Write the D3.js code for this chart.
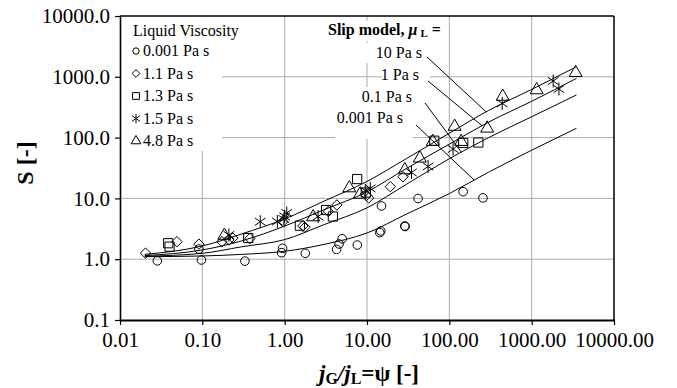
<!DOCTYPE html>
<html>
<head>
<meta charset="utf-8">
<script src="https://cdn.jsdelivr.net/npm/d3@7"></script>
<style>
  body { margin: 0; background: #fff; }
  svg { display: block; }
  svg text { font-family: "Liberation Serif", "Times New Roman", Times, serif; fill: #000; }
</style>
</head>
<body>
<svg id="chart" width="677" height="388"></svg>
<script>
// Axis ticks
const xTickValues = [0.01, 0.1, 1, 10, 100, 1000, 10000];
const xTickLabels = ["0.01", "0.10", "1.00", "10.00", "100.00", "1000.00", "10000.00"];
const yTickValues = [0.1, 1, 10, 100, 1000, 10000];
const yTickLabels = ["0.1", "1.0", "10.0", "100.0", "1000.0", "10000.0"];

// Measured slip ratio S against psi = jG/jL, one array per liquid viscosity
const seriesNames = ["0.001 Pa s", "1.1 Pa s", "1.3 Pa s", "1.5 Pa s", "4.8 Pa s"];
const seriesShapes = ["circle", "diamond", "square", "asterisk", "triangle"];
const visc0001 = [[0.0284, 0.94], [0.091, 1.47], [0.0975, 0.97], [0.329, 0.93], [0.944, 1.51], [0.917, 1.28],
  [1.78, 1.25], [4.27, 1.45], [4.58, 1.78], [4.99, 2.17], [7.63, 1.71], [14.3, 2.73], [14.7, 2.91],
  [15.0, 7.5], [28.8, 3.52], [29.0, 3.45], [41.7, 9.96], [147, 12.9], [256, 10.2]];
const visc11 = [[0.0204, 1.26], [0.0492, 1.94], [0.091, 1.77], [0.173, 1.94], [0.21, 2.07], [0.235, 2.23],
  [0.378, 2.19], [0.95, 4.14], [1.66, 3.52], [1.76, 3.35], [3.39, 6.1], [4.3, 7.8], [9.86, 11.2],
  [10.5, 10.2], [19.2, 15.6], [27.4, 22.7]];
const visc13 = [[0.0385, 1.83], [0.040, 1.61], [0.361, 2.23], [1.53, 3.56], [3.19, 6.44], [3.85, 5.04],
  [7.59, 20.8], [9.67, 12.5], [65.6, 88.9], [147.5, 81.5], [225, 83]];
const visc15 = [[0.21, 2.5], [0.505, 4.14], [0.815, 4.17], [1.0, 5.04], [0.977, 4.58], [1.06, 5.75],
  [2.55, 5.04], [9.53, 13.5], [10.96, 14.6], [34.7, 26.7], [55.2, 33.5], [111, 64.9], [439, 366],
  [1824, 853], [2143, 630]];
const visc48 = [[0.185, 2.45], [2.22, 4.94], [6.1, 14.8], [8.18, 11.6], [28.8, 29.3], [43.8, 45.7],
  [63, 85.7], [116, 152], [139, 85.7], [288, 142], [445, 474], [1151, 607], [3420, 1166]];

// Slip model curves for four liquid viscosities
const modelNames = ["10 Pa s", "1 Pa s", "0.1 Pa s", "0.001 Pa s"];
const modelPsi = [0.02, 0.1, 0.3, 1, 3, 10, 30, 100, 300, 1000, 3500];
const model10 = [1.2, 1.65, 2.6, 4.6, 9, 19, 45, 118, 280, 620, 1466];
const model1 = [1.15, 1.42, 2.0, 3.5, 6.5, 12.8, 31, 78, 180, 395, 944];
const model01 = [1.12, 1.25, 1.6, 2.1, 3.7, 7, 17, 45, 100, 220, 503];
const model0001 = [1.1, 1.13, 1.2, 1.35, 1.75, 2.7, 5.5, 12, 27, 62, 142];
// psi at which each label's pointer meets its curve
const leaderPsi = [280, 250, 140, 200];

const FONT = '"Liberation Serif", "Times New Roman", Times, serif';
const svg = d3.select("#chart");
const L = 120, R = 614, T = 16, B = 320;
const x = d3.scaleLog().domain([0.01, 10000]).range([L, R]);
const y = d3.scaleLog().domain([0.1, 10000]).range([B, T]);

// Marker outlines
function markerPath(shape, k) {
  const p = d3.path();
  if (shape === "circle") {
    const r = 4.3 * k; p.moveTo(r, 0); p.arc(0, 0, r, 0, 2 * Math.PI);
  } else if (shape === "diamond") {
    const r = 5.2 * k; p.moveTo(0, -r); p.lineTo(r, 0); p.lineTo(0, r); p.lineTo(-r, 0); p.closePath();
  } else if (shape === "square") {
    const r = 4.6 * k; p.rect(-r, -r, 2 * r, 2 * r);
  } else if (shape === "triangle") {
    const s = 13 * k, h = s * Math.sqrt(3) / 2;
    p.moveTo(0, -h * 2 / 3); p.lineTo(s / 2, h / 3); p.lineTo(-s / 2, h / 3); p.closePath();
  } else if (shape === "asterisk") {
    const r = 6.5 * k;
    p.moveTo(0, -r); p.lineTo(0, r);
    const a = 55 * Math.PI / 180;
    p.moveTo(-r * Math.sin(a), -r * Math.cos(a)); p.lineTo(r * Math.sin(a), r * Math.cos(a));
    p.moveTo(r * Math.sin(a), -r * Math.cos(a)); p.lineTo(-r * Math.sin(a), r * Math.cos(a));
  }
  return p.toString();
}

// Grid
const grid = svg.append("g").attr("stroke", "#ababab").attr("stroke-width", 1);
xTickValues.slice(1, -1).forEach(v => grid.append("line")
  .attr("x1", x(v)).attr("x2", x(v)).attr("y1", T).attr("y2", B));
yTickValues.slice(1, -1).forEach(v => grid.append("line")
  .attr("x1", L).attr("x2", R).attr("y1", y(v)).attr("y2", y(v)));

// White panels behind the legend and the model labels
const panels = [[121, 17, 101, 134], [326, 21, 116, 20], [335, 43, 90, 20], [382, 65, 48, 21],
  [335, 87, 80, 20], [335, 107, 78, 32]];
svg.append("g").selectAll("rect").data(panels).join("rect")
  .attr("x", d => d[0]).attr("y", d => d[1]).attr("width", d => d[2]).attr("height", d => d[3])
  .attr("fill", "#fff");

// Frame
svg.append("line").attr("x1", L).attr("x2", R).attr("y1", T).attr("y2", T)
  .attr("stroke", "#000").attr("stroke-width", 1.5);
svg.append("line").attr("x1", R).attr("x2", R).attr("y1", T).attr("y2", B)
  .attr("stroke", "#000").attr("stroke-width", 1.5);

// Axes
const xAxis = svg.append("g").attr("transform", `translate(0,${B})`)
  .call(d3.axisBottom(x).tickValues(xTickValues).tickFormat((d, i) => xTickLabels[i])
    .tickSize(5).tickSizeOuter(0).tickPadding(7));
const yAxis = svg.append("g").attr("transform", `translate(${L},0)`)
  .call(d3.axisLeft(y).tickValues(yTickValues).tickFormat((d, i) => yTickLabels[i])
    .tickSize(5).tickSizeOuter(0).tickPadding(5));
[xAxis, yAxis].forEach(g => {
  g.attr("font-family", null).attr("font-size", null);
  g.selectAll("text").attr("font-family", FONT).attr("font-size", 21).attr("fill", "#000");
  g.selectAll("line").attr("stroke", "#000").attr("stroke-width", 1.2);
});
xAxis.select(".domain").attr("stroke", "#000").attr("stroke-width", 2.2);
yAxis.select(".domain").attr("stroke", "#000").attr("stroke-width", 1.6);

// Model curves
const models = [model10, model1, model01, model0001];
const line = d3.line().x(d => x(d[0])).y(d => y(d[1])).curve(d3.curveMonotoneX);
svg.append("g").selectAll("path").data(models).join("path")
  .attr("d", m => line(modelPsi.map((p, i) => [p, m[i]])))
  .attr("fill", "none").attr("stroke", "#000").attr("stroke-width", 1);

// Measured points
const series = [visc0001, visc11, visc13, visc15, visc48];
series.forEach((pts, si) => {
  svg.append("g").selectAll("path").data(pts).join("path")
    .attr("transform", d => `translate(${x(d[0])},${y(d[1])})`)
    .attr("d", markerPath(seriesShapes[si], 1))
    .attr("fill", "none").attr("stroke", "#000").attr("stroke-width", 1);
});

// Legend
const lg = svg.append("g").attr("font-family", FONT);
lg.append("text").attr("x", 133).attr("y", 36).attr("font-size", 16).text("Liquid Viscosity");
seriesNames.forEach((name, i) => {
  const by = 56 + i * 22.5;
  lg.append("path").attr("transform", `translate(136,${by - 5})`)
    .attr("d", markerPath(seriesShapes[i], 0.74))
    .attr("fill", "none").attr("stroke", "#000").attr("stroke-width", 1);
  lg.append("text").attr("x", 143).attr("y", by).attr("font-size", 16).text(name);
});

// Model labels and pointers
const mt = svg.append("text").attr("x", 328).attr("y", 35).attr("font-size", 16)
  .attr("font-weight", "bold").attr("font-family", FONT);
mt.append("tspan").text("Slip model, ");
mt.append("tspan").attr("font-style", "italic").text("μ");
mt.append("tspan").attr("font-size", 11).attr("dx", 3).attr("dy", 2).text("L");
mt.append("tspan").attr("dy", -2).text(" =");

const labelRight = [422, 419, 412, 403];
const labelBase = [58, 80, 102, 123];
const leaderStart = [[427, 57], [428, 81], [425, 103], [416, 125]];
function curveAt(m, p) {
  const lp = Math.log10(p);
  for (let i = 0; i < modelPsi.length - 1; i++) {
    const a = Math.log10(modelPsi[i]), b = Math.log10(modelPsi[i + 1]);
    if (lp >= a && lp <= b) {
      const t = (lp - a) / (b - a);
      return Math.pow(10, Math.log10(m[i]) + t * (Math.log10(m[i + 1]) - Math.log10(m[i])));
    }
  }
  return m[m.length - 1];
}
modelNames.forEach((name, i) => {
  svg.append("text").attr("x", labelRight[i]).attr("y", labelBase[i]).attr("text-anchor", "end")
    .attr("font-family", FONT).attr("font-size", 16).text(name);
  svg.append("line")
    .attr("x1", leaderStart[i][0]).attr("y1", leaderStart[i][1])
    .attr("x2", x(leaderPsi[i])).attr("y2", y(curveAt(models[i], leaderPsi[i])))
    .attr("stroke", "#000").attr("stroke-width", 1);
});

// Axis titles
const xt = svg.append("text").attr("x", 369).attr("y", 381).attr("text-anchor", "middle")
  .attr("font-family", FONT).attr("font-size", 23).attr("font-weight", "bold");
xt.append("tspan").attr("font-style", "italic").text("j");
xt.append("tspan").attr("font-size", 16).attr("dy", 3).text("G");
xt.append("tspan").attr("font-style", "italic").attr("dy", -3).text("/j");
xt.append("tspan").attr("font-size", 16).attr("dy", 3).text("L");
xt.append("tspan").attr("dy", -3).text("=ψ [-]");

svg.append("text").attr("transform", "translate(33,163) rotate(-90)").attr("text-anchor", "middle")
  .attr("font-family", FONT).attr("font-size", 24).attr("font-weight", "bold").text("S [-]");
</script>
</body>
</html>
